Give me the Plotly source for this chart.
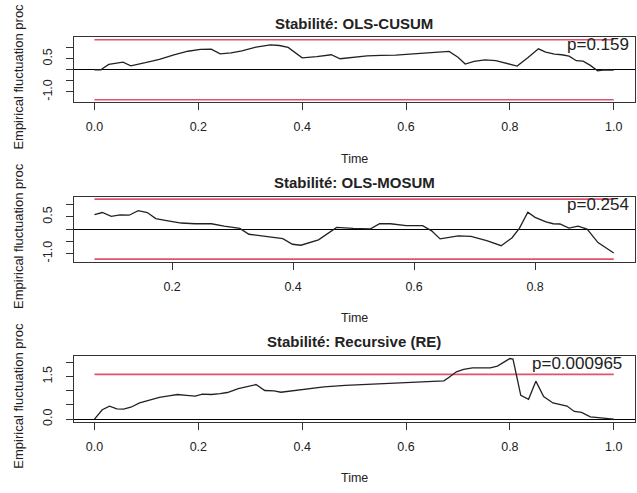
import plotly.graph_objects as go

W, H = 637, 493

# ---------------- data ----------------
cusum_time = [0.0, 0.013, 0.015, 0.0275, 0.055, 0.070, 0.098, 0.125, 0.153, 0.180, 0.204,
              0.225, 0.242, 0.263, 0.284, 0.311, 0.339, 0.356, 0.373, 0.400, 0.428,
              0.456, 0.473, 0.497, 0.525, 0.552, 0.580, 0.614, 0.649, 0.683, 0.700,
              0.714, 0.731, 0.752, 0.773, 0.793, 0.814, 0.835, 0.855, 0.869, 0.886,
              0.900, 0.914, 0.928, 0.941, 0.955, 0.969, 0.979, 1.0]
cusum_val = [0.0, 0.0, 0.045, 0.24, 0.35, 0.18, 0.32, 0.47, 0.68, 0.84, 0.92,
             0.935, 0.72, 0.77, 0.86, 1.03, 1.13, 1.10, 1.01, 0.54, 0.60,
             0.68, 0.50, 0.56, 0.63, 0.65, 0.66, 0.72, 0.78, 0.83, 0.57,
             0.26, 0.38, 0.45, 0.41, 0.29, 0.17, 0.56, 0.95, 0.80, 0.71,
             0.68, 0.62, 0.41, 0.39, 0.20, -0.05, -0.02, -0.02]
cusum_bound = 1.358

mosum_time = [0.0717, 0.0847, 0.0995, 0.114, 0.129, 0.144, 0.159, 0.173, 0.191, 0.215,
              0.238, 0.265, 0.286, 0.312, 0.327, 0.357, 0.383, 0.399, 0.413, 0.442,
              0.472, 0.499, 0.528, 0.543, 0.561, 0.587, 0.614, 0.629, 0.643, 0.673,
              0.694, 0.720, 0.744, 0.762, 0.774, 0.788, 0.800, 0.818, 0.830, 0.841,
              0.856, 0.871, 0.886, 0.904, 0.930]
mosum_val = [0.59, 0.68, 0.52, 0.58, 0.57, 0.76, 0.68, 0.43, 0.35, 0.25,
             0.22, 0.22, 0.12, 0.03, -0.21, -0.29, -0.39, -0.62, -0.66, -0.44,
             0.07, 0.03, 0.01, 0.22, 0.22, 0.14, 0.14, -0.07, -0.40, -0.28,
             -0.30, -0.47, -0.68, -0.35, 0.03, 0.69, 0.48, 0.30, 0.22, 0.21,
             0.04, 0.12, 0.0, -0.55, -0.98]
mosum_bound = 1.23

re_time = [0.0, 0.015, 0.029, 0.043, 0.056, 0.070, 0.087, 0.105, 0.125, 0.143, 0.160,
           0.177, 0.194, 0.208, 0.225, 0.242, 0.256, 0.277, 0.298, 0.311, 0.328,
           0.346, 0.359, 0.401, 0.442, 0.483, 0.525, 0.566, 0.607, 0.649, 0.673,
           0.683, 0.697, 0.711, 0.728, 0.762, 0.776, 0.800, 0.806, 0.821, 0.836,
           0.850, 0.865, 0.883, 0.900, 0.910, 0.924, 0.938, 0.955, 0.976, 1.0]
re_val = [0.0, 0.33, 0.46, 0.36, 0.35, 0.42, 0.57, 0.66, 0.77, 0.82, 0.87,
          0.84, 0.81, 0.88, 0.87, 0.90, 0.94, 1.08, 1.18, 1.22, 1.01,
          1.00, 0.95, 1.05, 1.14, 1.19, 1.22, 1.25, 1.29, 1.31, 1.35,
          1.48, 1.67, 1.76, 1.81, 1.81, 1.87, 2.14, 2.12, 0.84, 0.70,
          1.34, 0.80, 0.57, 0.49, 0.46, 0.27, 0.24, 0.08, 0.04, 0.0]
re_bound = 1.58

titles = ["Stabilité: OLS-CUSUM", "Stabilité: OLS-MOSUM", "Stabilité: Recursive (RE)"]
pvals = ["p=0.159", "p=0.254", "p=0.000965"]
x_label = "Time"
y_label = "Empirical fluctuation proc"

x_ticks_full = [0.0, 0.2, 0.4, 0.6, 0.8, 1.0]
x_ticks_mosum = [0.2, 0.4, 0.6, 0.8]
y_ticks_sym = [-1.0, -0.5, 0.0, 0.5, 1.0]
y_text_sym = ["-1.0", "", "", "0.5", ""]
y_ticks_re = [0.0, 0.5, 1.0, 1.5, 2.0]
y_text_re = ["0.0", "", "", "1.5", ""]

# ---------------- layout geometry (pixels) ----------------
BOX_L, BOX_R = 73.7, 634.5
boxes = [(37.7, 103.0), (198.3, 263.7), (359.0, 425.0)]
p_left = [565, 565, 530]
FONT = "Liberation Sans, Arial, sans-serif"
RED = "#DF536B"
INK = "#222222"


def px(x):
    return x / W


def py(y):
    return 1 - y / H


def ext(lo, hi):
    d = 0.04 * (hi - lo)
    return [lo - d, hi + d]


panels = [
    (cusum_time, cusum_val, [cusum_bound, -cusum_bound], x_ticks_full, y_ticks_sym, y_text_sym),
    (mosum_time, mosum_val, [mosum_bound, -mosum_bound], x_ticks_mosum, y_ticks_sym, y_text_sym),
    (re_time, re_val, [re_bound], x_ticks_full, y_ticks_re, y_text_re),
]

fig = go.Figure()
annotations = []
layout = dict(
    width=W, height=H, margin=dict(l=0, r=0, t=0, b=0),
    paper_bgcolor="white", plot_bgcolor="white", showlegend=False,
    font=dict(family=FONT, color=INK),
)

for i, (t, v, bounds, xt, yt, ytxt) in enumerate(panels):
    n = i + 1
    xa = "x" if n == 1 else f"x{n}"
    ya = "y" if n == 1 else f"y{n}"
    top, bot = boxes[i]

    for b in bounds:
        fig.add_trace(go.Scatter(x=[t[0], t[-1]], y=[b, b], mode="lines",
                                 line=dict(color=RED, width=1.6),
                                 xaxis=xa, yaxis=ya, hoverinfo="skip"))
    fig.add_trace(go.Scatter(x=t, y=v, mode="lines",
                             line=dict(color=INK, width=1.3),
                             xaxis=xa, yaxis=ya))

    ylo = min(min(v), min(bounds), 0)
    yhi = max(max(v), max(bounds))
    if len(bounds) == 2:
        ylo = min(ylo, -max(bounds))
    xr = ext(min(t), max(t))
    yr = ext(ylo, yhi)

    axis_common = dict(showline=True, mirror=True, linecolor="#333333", linewidth=1.2,
                       ticks="outside", ticklen=7, tickcolor="#333333", tickwidth=1,
                       showgrid=False, tickfont=dict(size=12.5, color=INK, family=FONT))
    layout["xaxis" if n == 1 else f"xaxis{n}"] = dict(
        axis_common, domain=[px(BOX_L), px(BOX_R)], range=xr, anchor=ya,
        tickmode="array", tickvals=xt, ticktext=[f"{x:.1f}" for x in xt],
        zeroline=False, ticklabelstandoff=6)
    layout["yaxis" if n == 1 else f"yaxis{n}"] = dict(
        axis_common, domain=[py(bot), py(top)], range=yr, anchor=xa,
        tickmode="array", tickvals=yt, ticktext=ytxt, tickangle=-90,
        zeroline=True, zerolinecolor="black", zerolinewidth=1, ticklabelstandoff=9)

    cx = px((BOX_L + BOX_R) / 2)
    annotations.append(dict(text=f"<b>{titles[i]}</b>", x=cx, y=py(top - 14.5),
                            xref="paper", yref="paper", showarrow=False,
                            xanchor="center", yanchor="middle",
                            font=dict(size=15, family=FONT, color=INK)))
    annotations.append(dict(text=x_label, x=cx, y=py(bot + 57),
                            xref="paper", yref="paper", showarrow=False,
                            xanchor="center", yanchor="middle",
                            font=dict(size=12.5, family=FONT, color=INK)))
    annotations.append(dict(text=y_label, x=px(19), y=py((top + bot) / 2 + 82.5),
                            xref="paper", yref="paper", showarrow=False, textangle=-90,
                            xanchor="center", yanchor="bottom",
                            font=dict(size=13, family=FONT, color=INK)))
    annotations.append(dict(text=pvals[i], x=px(p_left[i]), y=py(top + 7.5),
                            xref="paper", yref="paper", showarrow=False,
                            xanchor="left", yanchor="middle",
                            font=dict(size=17, family=FONT, color=INK)))

layout["annotations"] = annotations
fig.update_layout(**layout)
fig.write_html("out.html",
               post_script="document.body.style.margin='0';document.body.style.overflow='hidden';"
                           "document.documentElement.style.overflow='hidden';",
               config={"displayModeBar": False})
